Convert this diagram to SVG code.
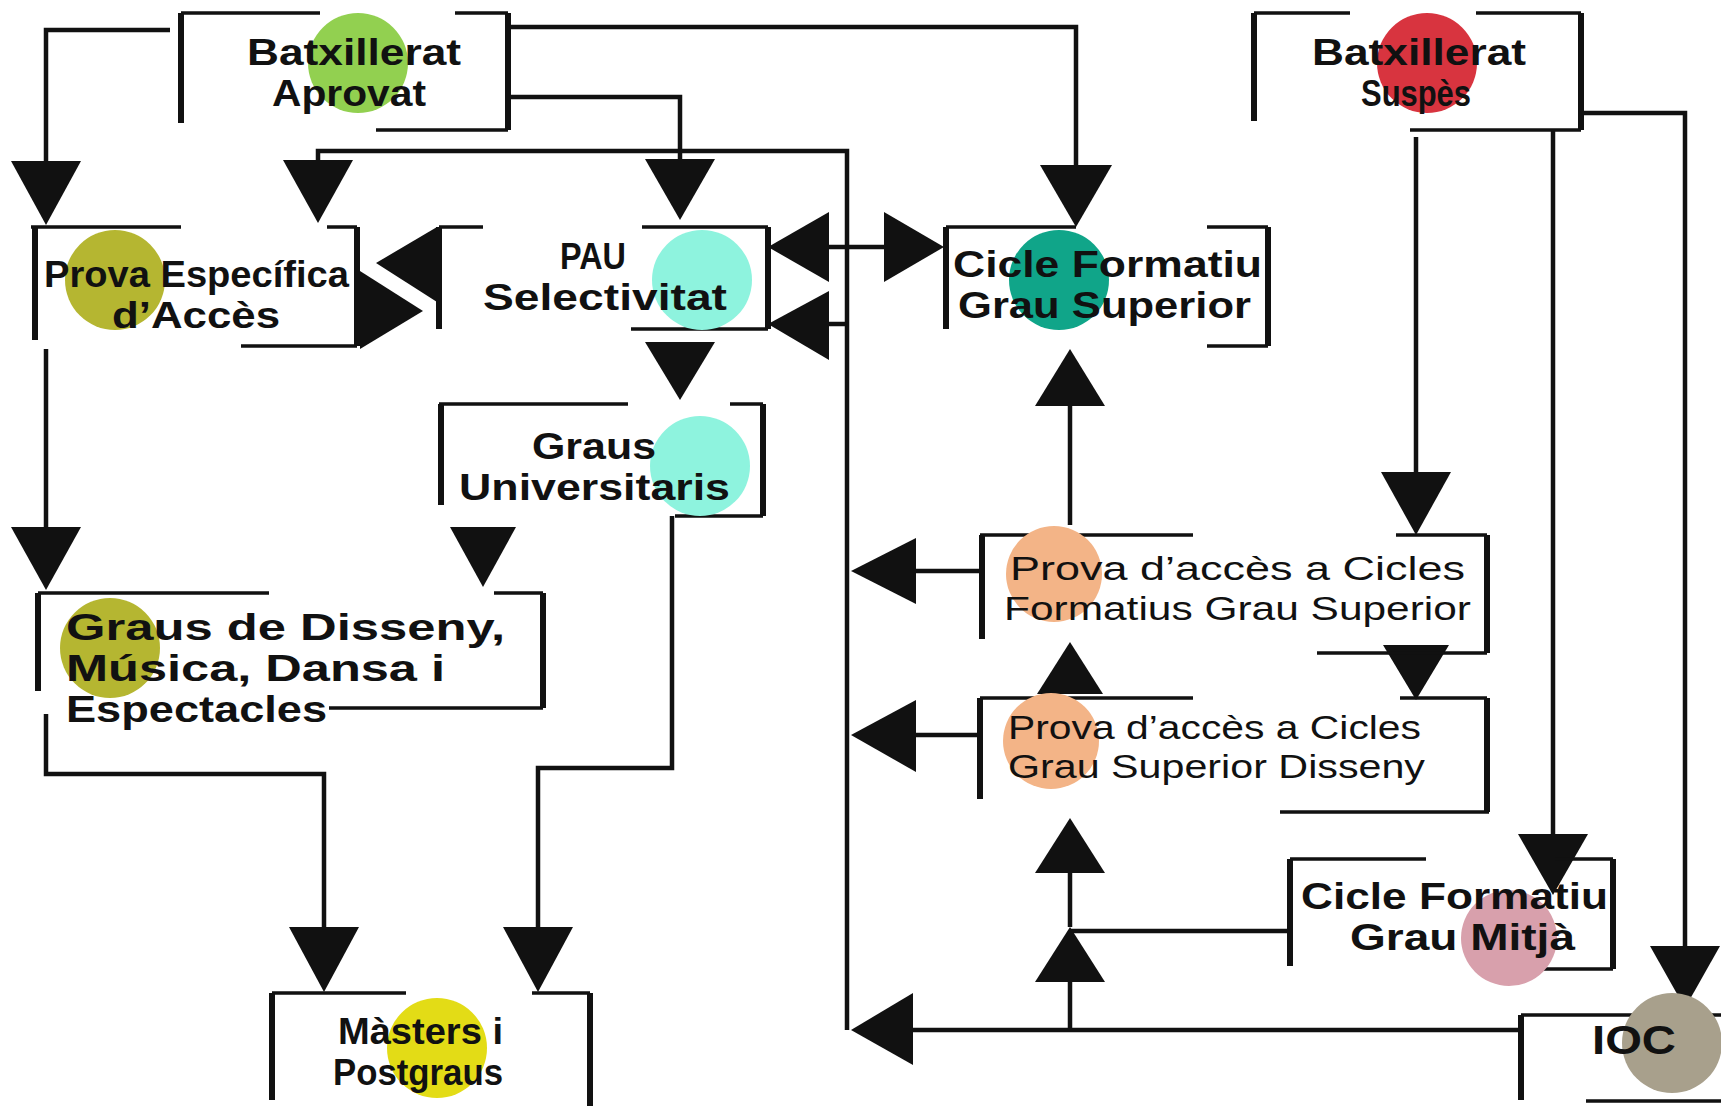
<svg xmlns="http://www.w3.org/2000/svg" width="1721" height="1106" viewBox="0 0 1721 1106">
<style>
.bh{fill:none;stroke:#111;stroke-width:3.5}
.bv{fill:none;stroke:#111;stroke-width:6}
.c{fill:none;stroke:#111;stroke-width:4.5}
.a{fill:#111}
text{font-family:"Liberation Sans",Arimo,Arial,sans-serif;fill:#111}
.t{font-size:36px;font-weight:700}
.tb{font-size:36px;font-weight:700}
.ts{font-size:33.5px;font-weight:400}
.ti{font-size:40px;font-weight:700}
</style>
<rect width="1721" height="1106" fill="#fff"/>
<g id="connectors">
<path class="c" d="M170,30 H46 V161"/>
<path class="c" d="M508,27 H1076 V165"/>
<path class="c" d="M508,97 H680 V159"/>
<path class="c" d="M318,162 V151 H847 V1030"/>
<path class="c" d="M829,247 H884"/>
<path class="c" d="M829,324 H847"/>
<path class="c" d="M46,349 V527"/>
<path class="c" d="M46,714 V774 H324 V927"/>
<path class="c" d="M672,516 V768 H538 V927"/>
<path class="c" d="M1070,525 V406"/>
<path class="c" d="M982,571 H916"/>
<path class="c" d="M980,735 H916"/>
<path class="c" d="M1521,1030 H913"/>
<path class="c" d="M1070,1030 V982 M1070,927 V873"/>
<path class="c" d="M1070,931 H1290"/>
<path class="c" d="M1416,137 V472"/>
<path class="c" d="M1553,130 V834"/>
<path class="c" d="M1581,113 H1685 V946"/>
<polygon class="a" points="11,161 81,161 46,225"/>
<polygon class="a" points="283,160 353,160 318,223"/>
<polygon class="a" points="645,159 715,159 680,220"/>
<polygon class="a" points="1040,165 1112,165 1076,227"/>
<polygon class="a" points="645,342 715,342 680,400"/>
<polygon class="a" points="11,527 81,527 46,590"/>
<polygon class="a" points="450,527 516,527 483,587"/>
<polygon class="a" points="289,927 359,927 324,992"/>
<polygon class="a" points="503,927 573,927 538,992"/>
<polygon class="a" points="1381,472 1451,472 1416,535"/>
<polygon class="a" points="1383,645 1449,645 1416,700"/>
<polygon class="a" points="1518,834 1588,834 1553,895"/>
<polygon class="a" points="1650,946 1720,946 1685,1008"/>
<polygon class="a" points="1035,406 1105,406 1070,349"/>
<polygon class="a" points="1037,694 1103,694 1070,642"/>
<polygon class="a" points="1035,873 1105,873 1070,818"/>
<polygon class="a" points="1035,982 1105,982 1070,927"/>
<polygon class="a" points="437,227 437,302 376,263"/>
<polygon class="a" points="360,271 360,349 423,311"/>
<polygon class="a" points="829,212 829,282 768,247"/>
<polygon class="a" points="884,212 884,282 944,247"/>
<polygon class="a" points="829,291 829,360 768,324"/>
<polygon class="a" points="916,538 916,604 851,571"/>
<polygon class="a" points="916,700 916,772 851,735"/>
<polygon class="a" points="913,993 913,1065 851,1030"/>
</g>
<g id="batx-aprovat">
<path class="bh" d="M181,13 H320 M455,13 H508 M376,130 H508"/>
<path class="bv" d="M181,13 V123 M508,13 V130"/>
<circle cx="358" cy="63" r="50" fill="#92D050"/>
<text class="tb" x="247" y="65" textLength="214" lengthAdjust="spacingAndGlyphs">Batxillerat</text>
<text class="tb" x="272" y="106" textLength="154" lengthAdjust="spacingAndGlyphs">Aprovat</text>
</g>
<g id="prova-especifica">
<path class="bh" d="M31,227 H181 M327,227 H357 M241,346 H357"/>
<path class="bv" d="M35,227 V340 M357,227 V346"/>
<circle cx="115" cy="280" r="50" fill="#B5B631"/>
<text class="tb" x="44" y="287" textLength="305" lengthAdjust="spacingAndGlyphs">Prova Específica</text>
<text class="tb" x="112" y="328" textLength="168" lengthAdjust="spacingAndGlyphs">d’Accès</text>
</g>
<g id="pau">
<path class="bh" d="M439,227 H483 M642,227 H768 M631,329 H768"/>
<path class="bv" d="M439,227 V329 M768,227 V329"/>
<circle cx="702" cy="280" r="50" fill="#8EF3DE"/>
<text class="t" x="560" y="269" textLength="66" lengthAdjust="spacingAndGlyphs">PAU</text>
<text class="t" x="483" y="310" textLength="244" lengthAdjust="spacingAndGlyphs">Selectivitat</text>
</g>
<g id="graus-universitaris">
<path class="bh" d="M439,404 H628 M730,404 H763 M675,516 H763"/>
<path class="bv" d="M441,404 V505 M763,404 V516"/>
<circle cx="700" cy="466" r="50" fill="#8EF3DE"/>
<text class="t" x="532" y="459" textLength="124" lengthAdjust="spacingAndGlyphs">Graus</text>
<text class="t" x="459" y="500" textLength="271" lengthAdjust="spacingAndGlyphs">Universitaris</text>
</g>
<g id="graus-disseny">
<path class="bh" d="M38,593 H269 M494,593 H543 M329,708 H543"/>
<path class="bv" d="M38,593 V691 M543,593 V708"/>
<circle cx="110" cy="648" r="50" fill="#B5B631"/>
<text class="t" x="66" y="640" textLength="439" lengthAdjust="spacingAndGlyphs">Graus de Disseny,</text>
<text class="t" x="66" y="681" textLength="379" lengthAdjust="spacingAndGlyphs">Música, Dansa i</text>
<text class="t" x="66" y="722" textLength="261" lengthAdjust="spacingAndGlyphs">Espectacles</text>
</g>
<g id="masters">
<path class="bh" d="M272,993 H406 M532,993 H590"/>
<path class="bv" d="M272,993 V1100 M590,993 V1106"/>
<circle cx="437" cy="1048" r="50" fill="#E3DC16"/>
<text class="t" x="338" y="1044" textLength="165" lengthAdjust="spacingAndGlyphs">Màsters i</text>
<text class="t" x="333" y="1085" textLength="170" lengthAdjust="spacingAndGlyphs">Postgraus</text>
</g>
<g id="cfgs">
<path class="bh" d="M946,227 H1076 M1207,227 H1268 M1207,346 H1268"/>
<path class="bv" d="M946,227 V329 M1268,227 V346"/>
<circle cx="1059" cy="280" r="50" fill="#10A589"/>
<text class="t" x="953" y="277" textLength="309" lengthAdjust="spacingAndGlyphs">Cicle Formatiu</text>
<text class="t" x="958" y="318" textLength="293" lengthAdjust="spacingAndGlyphs">Grau Superior</text>
</g>
<g id="batx-suspes">
<path class="bh" d="M1254,13 H1350 M1476,13 H1581 M1410,130 H1581"/>
<path class="bv" d="M1254,13 V121 M1581,13 V130"/>
<circle cx="1427" cy="63" r="50" fill="#D8343F"/>
<text class="tb" x="1312" y="65" textLength="214" lengthAdjust="spacingAndGlyphs">Batxillerat</text>
<text class="tb" x="1361" y="106" textLength="110" lengthAdjust="spacingAndGlyphs">Suspès</text>
</g>
<g id="prova-cfgs">
<path class="bh" d="M980,535 H1193 M1396,535 H1487 M1317,653 H1487"/>
<path class="bv" d="M982,535 V639 M1487,535 V653"/>
<circle cx="1054" cy="574" r="48" fill="#F3B487"/>
<text class="ts" x="1010" y="580" textLength="455" lengthAdjust="spacingAndGlyphs">Prova d’accès a Cicles</text>
<text class="ts" x="1004" y="620" textLength="467" lengthAdjust="spacingAndGlyphs">Formatius Grau Superior</text>
</g>
<g id="prova-disseny">
<path class="bh" d="M980,698 H1193 M1400,698 H1487 M1280,812 H1489"/>
<path class="bv" d="M980,698 V799 M1487,698 V812"/>
<circle cx="1051" cy="741" r="48" fill="#F3B487"/>
<text class="ts" x="1008" y="739" textLength="413" lengthAdjust="spacingAndGlyphs">Prova d’accès a Cicles</text>
<text class="ts" x="1008" y="778" textLength="417" lengthAdjust="spacingAndGlyphs">Grau Superior Disseny</text>
</g>
<g id="cfgm">
<path class="bh" d="M1290,859 H1426 M1555,859 H1613 M1477,969 H1613"/>
<path class="bv" d="M1290,859 V966 M1613,859 V969"/>
<circle cx="1509" cy="938" r="48" fill="#D8A0AC"/>
<text class="t" x="1301" y="909" textLength="307" lengthAdjust="spacingAndGlyphs">Cicle Formatiu</text>
<text class="t" x="1350" y="950" textLength="225" lengthAdjust="spacingAndGlyphs">Grau Mitjà</text>
</g>
<g id="ioc">
<path class="bh" d="M1521,1015 H1658 M1690,1015 H1721 M1586,1101 H1721"/>
<path class="bv" d="M1521,1015 V1100"/>
<circle cx="1672" cy="1043" r="50" fill="#A8A08C"/>
<text class="ti" x="1592" y="1054" textLength="84" lengthAdjust="spacingAndGlyphs">IOC</text>
</g>
</svg>
